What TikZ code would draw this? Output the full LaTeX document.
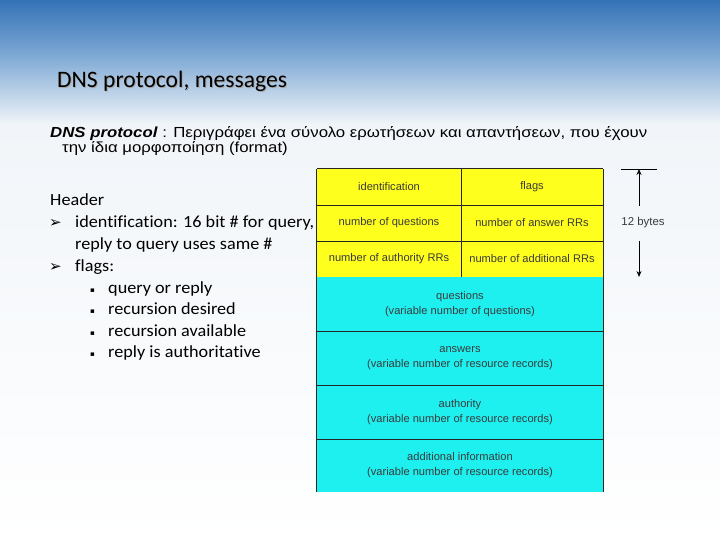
\documentclass[tikz,border=0pt]{standalone}
\usepackage{fontspec}
\setmainfont{Liberation Sans}
\newfontfamily\calib{Carlito}
\newfontfamily\calibwide[FakeStretch=1.07,Ligatures=NoCommon]{Carlito}
\newfontfamily\introfont[FakeStretch=1.15]{Liberation Sans}
\newfontfamily\dejavu{DejaVu Sans}
\usetikzlibrary{arrows.meta}
\definecolor{topblue}{HTML}{3472B6}
\definecolor{midblue}{HTML}{7DA8D4}
\definecolor{paleblue}{HTML}{F1F5F9}
\definecolor{cellyellow}{HTML}{FFFF1E}
\definecolor{cellcyan}{HTML}{1EF0F0}
\definecolor{celltext}{HTML}{3A3A3A}
\tikzset{
  ycell/.style={fill=cellyellow, inner sep=0pt, font=\fontsize{11.1}{13}\selectfont, text=celltext, align=center},
  ccell/.style={fill=cellcyan, inner sep=0pt, font=\fontsize{11.1}{15}\selectfont, text=celltext, align=center},
  grid/.style={draw=black!85, line width=0.8pt},
  listtxt/.style={anchor=base west, inner sep=0pt, font=\calibwide\fontsize{17}{20}\selectfont},
  mark1/.style={anchor=base west, inner sep=0pt, font=\dejavu\bfseries\fontsize{15}{17}\selectfont},
  mark2/.style={anchor=base west, inner sep=0pt, font=\dejavu\fontsize{7}{9}\selectfont},
}
\begin{document}
\begin{tikzpicture}[x=1pt,y=-1pt]
\useasboundingbox (0,0) rectangle (720,540);
% background
\shade[top color=topblue, bottom color=midblue] (0,0) rectangle (720,55);
\shade[top color=midblue, bottom color=paleblue] (0,54.5) rectangle (720,125);
\shade[top color=paleblue, bottom color=white] (0,124.5) rectangle (720,540);
% title
\node[anchor=base west, inner sep=0pt, text=black!35, font=\calib\fontsize{23.6}{26}\selectfont] (titleshadow) at (58,89) {DNS protocol, messages};
\node[anchor=base west, inner sep=0pt, font=\calib\fontsize{23.6}{26}\selectfont] (title) at (57,88) {DNS protocol, messages};
% intro text
\node[anchor=base west, inner sep=0pt, font=\introfont\fontsize{14.6}{16}\selectfont] (intro1) at (50,138) {\textbf{\textit{DNS protocol}} : Περιγράφει ένα σύνολο ερωτήσεων και απαντήσεων, που έχουν};
\node[anchor=base west, inner sep=0pt, font=\introfont\fontsize{14.6}{16}\selectfont] (intro2) at (62,153) {την ίδια μορφοποίηση (format)};
% header list
\node[listtxt] (hdr) at (50,206) {Header};
\node[mark1] (m1) at (49,228) {➢};
\node[listtxt] (l1) at (75,228) {identification: 16 bit \# for query,};
\node[listtxt] (l1b) at (75,249) {reply to query uses same \#};
\node[mark1] (m2) at (49,271) {➢};
\node[listtxt] (l2) at (75,271) {flags:};
\node[mark2] (b1) at (90,292) {▪};
\node[listtxt] (f1) at (108,293) {query or reply};
\node[mark2] (b2) at (90,313) {▪};
\node[listtxt] (f2) at (108,314) {recursion desired};
\node[mark2] (b3) at (90,335) {▪};
\node[listtxt] (f3) at (108,336) {recursion available};
\node[mark2] (b4) at (90,356) {▪};
\node[listtxt] (f4) at (108,357) {reply is authoritative};
% table cells
\node[ycell, minimum width=144pt, minimum height=36pt] (id) at (389,187) {identification};
\node[ycell, minimum width=142pt, minimum height=36pt] (flags) at (532,187) {flags};
\node[ycell, minimum width=144pt, minimum height=36pt] (nq) at (389,223) {number of questions};
\node[ycell, minimum width=142pt, minimum height=36pt] (na) at (532,223) {number of answer RRs};
\node[ycell, minimum width=144pt, minimum height=36pt] (nauth) at (389,259) {number of authority RRs};
\node[ycell, minimum width=142pt, minimum height=36pt] (nadd) at (532,259) {number of additional RRs};
\node[ccell, minimum width=286pt, minimum height=54pt] (q) at (460,304) {questions\\(variable number of questions)};
\node[ccell, minimum width=286pt, minimum height=54pt] (ans) at (460,358) {answers\\(variable number of resource records)};
\node[ccell, minimum width=286pt, minimum height=54pt] (auth) at (460,412) {authority\\(variable number of resource records)};
\node[ccell, minimum width=286pt, minimum height=53pt] (add) at (460,465.5) {additional information\\(variable number of resource records)};
% grid lines
\draw[grid] (id.north west) -- (flags.north east);
\draw[grid] (id.south west) -- (flags.south east);
\draw[grid] (nq.south west) -- (na.south east);
\draw[grid] (q.south west) -- (q.south east);
\draw[grid] (ans.south west) -- (ans.south east);
\draw[grid] (auth.south west) -- (auth.south east);
\draw[grid] (id.north west) -- (add.south west);
\draw[grid] (flags.north east) -- (add.south east);
\draw[grid] (id.north east) -- (nauth.south east);
% 12 bytes annotation
\node[inner sep=0pt, font=\fontsize{11.4}{13}\selectfont, text=celltext] (bytes) at (643,223) {12 bytes};
\coordinate (tickl) at (621,169);
\coordinate (tickr) at (657,169);
\coordinate (btop) at (639,169);
\coordinate (bup) at (639,206);
\coordinate (blow) at (639,241);
\coordinate (bbot) at (639,277);
\draw[black, line width=0.8pt] (tickl) -- (tickr);
\draw[black, line width=0.8pt, -{Stealth[length=6pt,width=5pt]}] (bup) -- (btop);
\draw[black, line width=0.8pt, -{Stealth[length=6pt,width=5pt]}] (blow) -- (bbot);
\end{tikzpicture}
\end{document}
